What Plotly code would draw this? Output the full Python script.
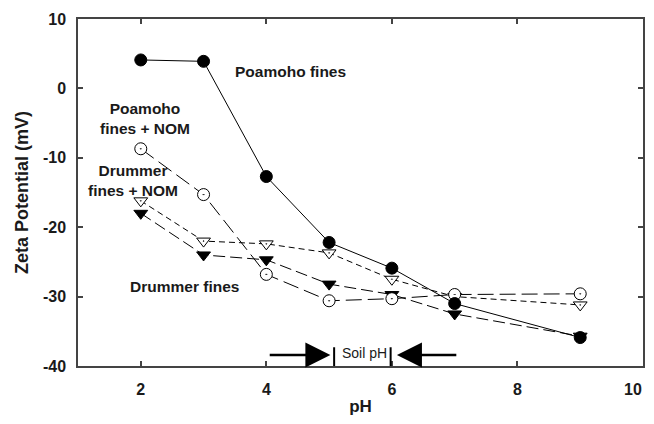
import plotly.graph_objects as go

ph = [2, 3, 4, 5, 6, 7, 9]
poamoho = [4.1, 3.9, -12.7, -22.2, -25.9, -31.0, -35.9]
poamoho_nom = [-8.7, -15.3, -26.8, -30.6, -30.3, -29.7, -29.6]
drummer_nom = [-16.2, -22.0, -22.4, -23.7, -27.5, -30.0, -31.2]
drummer = [-18.0, -24.0, -24.7, -28.2, -29.7, -32.5, -35.7]

xticks = [2, 4, 6, 8, 10]
yticks = [10, 0, -10, -20, -30, -40]

FONT = "Liberation Sans, Arial, sans-serif"
TXT = "#1a1a1a"

fig = go.Figure()

fig.add_trace(go.Scatter(
    x=ph, y=drummer_nom, mode="lines+markers",
    line=dict(color="black", width=1, dash="6px,4px"),
    marker=dict(symbol="triangle-down-dot", size=12, color="white",
                line=dict(color="black", width=1))))
fig.add_trace(go.Scatter(
    x=ph, y=drummer, mode="lines+markers",
    line=dict(color="black", width=1, dash="12px,5px"),
    marker=dict(symbol="triangle-down", size=12, color="black",
                line=dict(color="black", width=1))))
fig.add_trace(go.Scatter(
    x=ph, y=poamoho_nom, mode="lines+markers",
    line=dict(color="black", width=1, dash="16px,6px"),
    marker=dict(symbol="circle-dot", size=12, color="white",
                line=dict(color="black", width=1))))
fig.add_trace(go.Scatter(
    x=ph, y=poamoho, mode="lines+markers",
    line=dict(color="black", width=1),
    marker=dict(symbol="circle", size=12, color="black",
                line=dict(color="black", width=1))))

ann_font = dict(family=FONT, size=15.5, color=TXT, weight="bold")
labels = [
    ("Poamoho fines", 4.39, 2.5),
    ("Poamoho<br>fines + NOM", 2.06, -4.3),
    ("Drummer<br>fines + NOM", 1.87, -13.2),
    ("Drummer fines", 2.70, -28.5),
]
for txt, x, y in labels:
    fig.add_annotation(x=x, y=y, text=txt, showarrow=False, font=ann_font,
                       xanchor="center", yanchor="middle")

fig.add_annotation(x=5.56, y=-38.1, text="Soil pH", showarrow=False,
                   font=dict(family=FONT, size=14, color=TXT))

# last x tick label sits at the page edge; keep it inside the figure
fig.add_annotation(x=xticks[-1], y=-40, text=str(xticks[-1]), showarrow=False,
                   xanchor="right", yanchor="middle", yshift=-23, xshift=1,
                   font=dict(family=FONT, size=16, color=TXT, weight="bold"))

# arrows
fig.add_annotation(x=5.02, y=-38.4, ax=4.03, ay=-38.4, axref="x", ayref="y",
                   xref="x", yref="y", text="", showarrow=True,
                   arrowhead=2, arrowsize=2, arrowwidth=2.5, arrowcolor="black")
fig.add_annotation(x=6.08, y=-38.4, ax=7.05, ay=-38.4, axref="x", ayref="y",
                   xref="x", yref="y", text="", showarrow=True,
                   arrowhead=2, arrowsize=2, arrowwidth=2.5, arrowcolor="black")
for xv in [5.08, 5.98]:
    fig.add_shape(type="line", x0=xv, x1=xv, y0=-37.3, y1=-40.3,
                  line=dict(color="black", width=2), xref="x", yref="y")

axis_common = dict(
    showgrid=False, zeroline=False, showline=True, linecolor="#444",
    linewidth=1.5, mirror="ticks", ticks="inside", ticklen=5,
    tickcolor="#444", tickwidth=1.5,
    tickfont=dict(family=FONT, size=16, color=TXT, weight="bold"),
)

fig.update_xaxes(range=[1, 10], tickvals=xticks[:-1], ticktext=[str(t) for t in xticks[:-1]],
                 ticklabelstandoff=8,
                 title=dict(text="pH", font=dict(family=FONT, size=17, color=TXT, weight="bold"),
                            standoff=5),
                 **axis_common)
fig.update_yaxes(range=[-40, 10], tickvals=yticks, ticktext=[str(t) for t in yticks],
                 ticklabelstandoff=7,
                 title=dict(text="Zeta Potential (mV)",
                            font=dict(family=FONT, size=18, color=TXT, weight="bold"),
                            standoff=10),
                 **axis_common)

fig.update_layout(
    width=638, height=408, showlegend=False,
    plot_bgcolor="white", paper_bgcolor="white",
    margin=dict(l=70, r=1, t=11, b=47),
)

fig.write_html("out.html")
